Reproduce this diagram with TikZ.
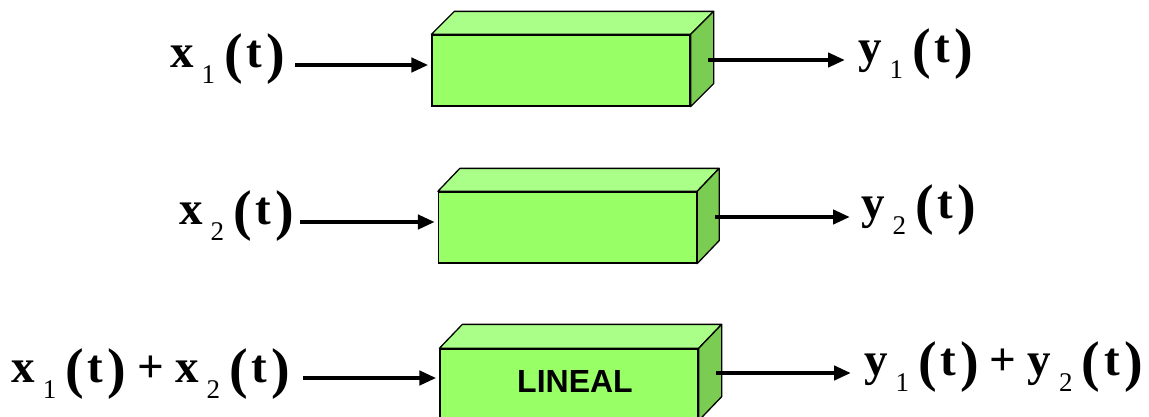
\documentclass[tikz,border=0pt]{standalone}
\usepackage{fontspec}
\setmainfont{Liberation Serif}
\newfontfamily\lsans{Liberation Sans}
\usetikzlibrary{arrows.meta,calc}
\definecolor{frontg}{RGB}{153,255,102}
\definecolor{topg}{RGB}{170,255,136}
\definecolor{sideg}{RGB}{122,204,82}
\newcommand\sigl[2]{{\fontsize{47}{47}\selectfont\bfseries #1}\hspace{8pt}\raisebox{-16pt}{\fontsize{27}{27}\selectfont #2}\hspace{9pt}\raisebox{-5pt}{\fontsize{56}{56}\selectfont\bfseries (}\hspace{4pt}{\fontsize{47}{47}\selectfont\bfseries t}\hspace{4pt}\raisebox{-5pt}{\fontsize{56}{56}\selectfont\bfseries )}}
\newcommand\plusop{\hspace{11pt}{\fontsize{47}{47}\selectfont\bfseries +}\hspace{11pt}}
\tikzset{
  front/.style={draw=black, line width=1.3pt, fill=frontg, minimum width=258pt, minimum height=71pt, inner sep=0pt},
  topface/.style={draw=black, line width=1.3pt, fill=topg, line join=round},
  sideface/.style={draw=black, line width=1.3pt, fill=sideg, line join=round},
  sig/.style={line width=4.4pt, -{Triangle[length=17pt,width=14pt]}},
  lbl/.style={inner sep=0pt, outer sep=0pt}
}
\newcommand\cube[5]{%
  \node[front] (#1) at (#2,#3) {};
  \filldraw[topface] (#1.north west) -- ++(#4,-#5) -- ($(#1.north east)+(#4,-#5)$) -- (#1.north east) -- cycle;
  \filldraw[sideface] (#1.north east) -- ++(#4,-#5) -- ($(#1.south east)+(#4,-#5)$) -- (#1.south east) -- cycle;
}
\begin{document}
\begin{tikzpicture}[x=1pt,y=-1pt]
\useasboundingbox (0,0) rectangle (1149,416);
% boxes
\cube{b1}{561}{70.5}{23}{23}
\cube{b2}{567.5}{227.5}{22}{23}
\cube{b3}{569}{384.5}{23}{24}
\node[lbl, font=\lsans\bfseries\fontsize{32}{32}\selectfont] (lin) at (575,381) {LINEAL};
% labels
\node[lbl, anchor=base east] (x1) at (285,67) {\sigl{x}{1}};
\node[lbl, anchor=base west] (y1) at (858,62) {\sigl{y}{1}};
\node[lbl, anchor=base east] (x2) at (294,224) {\sigl{x}{2}};
\node[lbl, anchor=base west] (y2) at (861,218) {\sigl{y}{2}};
\node[lbl, anchor=base east] (x12) at (290,382) {\sigl{x}{1}\plusop\sigl{x}{2}};
\node[lbl, anchor=base west] (y12) at (864,375) {\sigl{y}{1}\plusop\sigl{y}{2}};
% output start points inside side faces
\coordinate (o1) at (708,60);
\coordinate (o2) at (715,217);
\coordinate (o3) at (716,373);
% arrows
\draw[sig] ($(x1.base east)+(10,-2)$) -- ($(b1.west |- x1.base)+(-3,-2)$);
\draw[sig] ($(x2.base east)+(6,-2)$) -- ($(b2.west |- x2.base)+(-3,-2)$);
\draw[sig] ($(x12.base east)+(13,-4)$) -- ($(b3.west |- x12.base)+(-3,-4)$);
\draw[sig] (o1) -- ($(y1.base west |- o1)+(-13,0)$);
\draw[sig] (o2) -- ($(y2.base west |- o2)+(-11,0)$);
\draw[sig] (o3) -- ($(y12.base west |- o3)+(-13,0)$);
\end{tikzpicture}
\end{document}
